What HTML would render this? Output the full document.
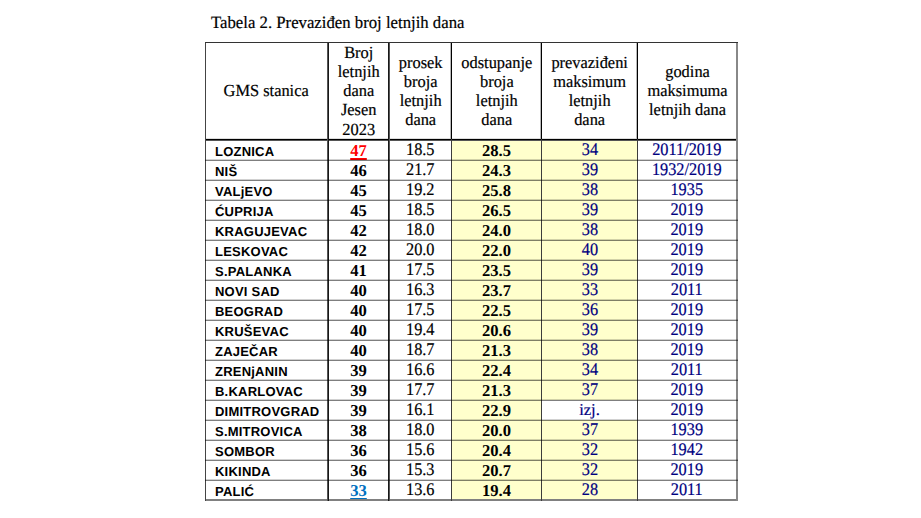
<!DOCTYPE html><html><head><meta charset="utf-8"><style>
html,body{margin:0;padding:0;background:#fff;}
body{width:921px;height:518px;position:relative;overflow:hidden;font-family:"Liberation Serif",serif;color:#000;text-rendering:geometricPrecision;}
.a{position:absolute;white-space:nowrap;}
.sk{-webkit-text-stroke:0.2px currentColor;}
.r{position:absolute;}
.c{position:absolute;text-align:center;white-space:nowrap;}
.n{font-family:"Liberation Sans",sans-serif;font-weight:bold;font-size:13px;letter-spacing:0.22px;line-height:20px;}
.d{font-size:17.8px;line-height:20px;transform:scaleX(0.9157);}
.b{font-weight:bold;font-size:16.6px;transform:scaleX(1.0000);-webkit-text-stroke:0px currentColor;}
.nv{color:#000080;}
.h{display:flex;align-items:center;justify-content:center;text-align:center;}
.hln{display:block;height:19.0px;line-height:19.0px;font-size:17.0px;transform:scaleX(0.9647);white-space:nowrap;}
</style></head><body>
<div class="a sk" style="left:211px;top:11.89px;font-size:17.3px;line-height:21.15px;transform-origin:0 0;transform:scaleX(0.9682);">Tabela 2. Prevaziđen broj letnjih dana</div>
<div class="r" style="left:452px;top:140px;width:89px;height:360px;background:#FFFFCC"></div>
<div class="r" style="left:542px;top:140px;width:95px;height:260px;background:#FFFFCC"></div>
<div class="r" style="left:542px;top:420px;width:95px;height:80px;background:#FFFFCC"></div>
<div class="c h sk" style="left:205px;top:42px;width:123px;height:97.5px;"><div><div class="hln">GMS stanica</div></div></div>
<div class="c h sk" style="left:328px;top:42px;width:61px;height:97.5px;"><div><div class="hln">Broj</div><div class="hln">letnjih</div><div class="hln">dana</div><div class="hln">Jesen</div><div class="hln" style="position:relative;top:0.8px">2023</div></div></div>
<div class="c h sk" style="left:389px;top:42px;width:62.5px;height:97.5px;"><div><div class="hln">prosek</div><div class="hln">broja</div><div class="hln">letnjih</div><div class="hln">dana</div></div></div>
<div class="c h sk" style="left:451.5px;top:42px;width:90.0px;height:97.5px;"><div><div class="hln">odstupanje</div><div class="hln">broja</div><div class="hln">letnjih</div><div class="hln">dana</div></div></div>
<div class="c h sk" style="left:541.5px;top:42px;width:96.0px;height:97.5px;"><div><div class="hln">prevaziđeni</div><div class="hln">maksimum</div><div class="hln">letnjih</div><div class="hln">dana</div></div></div>
<div class="c h sk" style="left:637.5px;top:42px;width:99.5px;height:97.5px;"><div><div class="hln">godina</div><div class="hln">maksimuma</div><div class="hln">letnjih dana</div></div></div>
<div class="a n" style="left:215px;top:141.5px;">LOZNICA</div>
<div class="c sk d b" style="left:328px;top:140.9px;width:61px;color:#FF0000;text-decoration:underline;text-underline-offset:2px;text-decoration-thickness:1.5px;">47</div>
<div class="c sk d" style="left:389px;top:138.6px;width:62.5px;">18.5</div>
<div class="c sk d b" style="left:451.5px;top:140.9px;width:90.0px;">28.5</div>
<div class="c sk d nv" style="left:541.5px;top:138.6px;width:96.0px;">34</div>
<div class="c sk d nv" style="left:636.5px;top:138.6px;width:99.5px;">2011/2019</div>
<div class="a n" style="left:215px;top:161.5px;">NIŠ</div>
<div class="c sk d b" style="left:328px;top:160.9px;width:61px;">46</div>
<div class="c sk d" style="left:389px;top:158.6px;width:62.5px;">21.7</div>
<div class="c sk d b" style="left:451.5px;top:160.9px;width:90.0px;">24.3</div>
<div class="c sk d nv" style="left:541.5px;top:158.6px;width:96.0px;">39</div>
<div class="c sk d nv" style="left:636.5px;top:158.6px;width:99.5px;">1932/2019</div>
<div class="a n" style="left:215px;top:181.5px;">VALjEVO</div>
<div class="c sk d b" style="left:328px;top:180.9px;width:61px;">45</div>
<div class="c sk d" style="left:389px;top:178.6px;width:62.5px;">19.2</div>
<div class="c sk d b" style="left:451.5px;top:180.9px;width:90.0px;">25.8</div>
<div class="c sk d nv" style="left:541.5px;top:178.6px;width:96.0px;">38</div>
<div class="c sk d nv" style="left:636.5px;top:178.6px;width:99.5px;">1935</div>
<div class="a n" style="left:215px;top:201.5px;">ĆUPRIJA</div>
<div class="c sk d b" style="left:328px;top:200.9px;width:61px;">45</div>
<div class="c sk d" style="left:389px;top:198.6px;width:62.5px;">18.5</div>
<div class="c sk d b" style="left:451.5px;top:200.9px;width:90.0px;">26.5</div>
<div class="c sk d nv" style="left:541.5px;top:198.6px;width:96.0px;">39</div>
<div class="c sk d nv" style="left:636.5px;top:198.6px;width:99.5px;">2019</div>
<div class="a n" style="left:215px;top:221.5px;">KRAGUJEVAC</div>
<div class="c sk d b" style="left:328px;top:220.9px;width:61px;">42</div>
<div class="c sk d" style="left:389px;top:218.6px;width:62.5px;">18.0</div>
<div class="c sk d b" style="left:451.5px;top:220.9px;width:90.0px;">24.0</div>
<div class="c sk d nv" style="left:541.5px;top:218.6px;width:96.0px;">38</div>
<div class="c sk d nv" style="left:636.5px;top:218.6px;width:99.5px;">2019</div>
<div class="a n" style="left:215px;top:241.5px;">LESKOVAC</div>
<div class="c sk d b" style="left:328px;top:240.9px;width:61px;">42</div>
<div class="c sk d" style="left:389px;top:238.6px;width:62.5px;">20.0</div>
<div class="c sk d b" style="left:451.5px;top:240.9px;width:90.0px;">22.0</div>
<div class="c sk d nv" style="left:541.5px;top:238.6px;width:96.0px;">40</div>
<div class="c sk d nv" style="left:636.5px;top:238.6px;width:99.5px;">2019</div>
<div class="a n" style="left:215px;top:261.5px;">S.PALANKA</div>
<div class="c sk d b" style="left:328px;top:260.90000000000003px;width:61px;">41</div>
<div class="c sk d" style="left:389px;top:258.6px;width:62.5px;">17.5</div>
<div class="c sk d b" style="left:451.5px;top:260.90000000000003px;width:90.0px;">23.5</div>
<div class="c sk d nv" style="left:541.5px;top:258.6px;width:96.0px;">39</div>
<div class="c sk d nv" style="left:636.5px;top:258.6px;width:99.5px;">2019</div>
<div class="a n" style="left:215px;top:281.5px;">NOVI SAD</div>
<div class="c sk d b" style="left:328px;top:280.90000000000003px;width:61px;">40</div>
<div class="c sk d" style="left:389px;top:278.6px;width:62.5px;">16.3</div>
<div class="c sk d b" style="left:451.5px;top:280.90000000000003px;width:90.0px;">23.7</div>
<div class="c sk d nv" style="left:541.5px;top:278.6px;width:96.0px;">33</div>
<div class="c sk d nv" style="left:636.5px;top:278.6px;width:99.5px;">2011</div>
<div class="a n" style="left:215px;top:301.5px;">BEOGRAD</div>
<div class="c sk d b" style="left:328px;top:300.90000000000003px;width:61px;">40</div>
<div class="c sk d" style="left:389px;top:298.6px;width:62.5px;">17.5</div>
<div class="c sk d b" style="left:451.5px;top:300.90000000000003px;width:90.0px;">22.5</div>
<div class="c sk d nv" style="left:541.5px;top:298.6px;width:96.0px;">36</div>
<div class="c sk d nv" style="left:636.5px;top:298.6px;width:99.5px;">2019</div>
<div class="a n" style="left:215px;top:321.5px;">KRUŠEVAC</div>
<div class="c sk d b" style="left:328px;top:320.90000000000003px;width:61px;">40</div>
<div class="c sk d" style="left:389px;top:318.6px;width:62.5px;">19.4</div>
<div class="c sk d b" style="left:451.5px;top:320.90000000000003px;width:90.0px;">20.6</div>
<div class="c sk d nv" style="left:541.5px;top:318.6px;width:96.0px;">39</div>
<div class="c sk d nv" style="left:636.5px;top:318.6px;width:99.5px;">2019</div>
<div class="a n" style="left:215px;top:341.5px;">ZAJEČAR</div>
<div class="c sk d b" style="left:328px;top:340.90000000000003px;width:61px;">40</div>
<div class="c sk d" style="left:389px;top:338.6px;width:62.5px;">18.7</div>
<div class="c sk d b" style="left:451.5px;top:340.90000000000003px;width:90.0px;">21.3</div>
<div class="c sk d nv" style="left:541.5px;top:338.6px;width:96.0px;">38</div>
<div class="c sk d nv" style="left:636.5px;top:338.6px;width:99.5px;">2019</div>
<div class="a n" style="left:215px;top:361.5px;">ZRENjANIN</div>
<div class="c sk d b" style="left:328px;top:360.90000000000003px;width:61px;">39</div>
<div class="c sk d" style="left:389px;top:358.6px;width:62.5px;">16.6</div>
<div class="c sk d b" style="left:451.5px;top:360.90000000000003px;width:90.0px;">22.4</div>
<div class="c sk d nv" style="left:541.5px;top:358.6px;width:96.0px;">34</div>
<div class="c sk d nv" style="left:636.5px;top:358.6px;width:99.5px;">2011</div>
<div class="a n" style="left:215px;top:381.5px;">B.KARLOVAC</div>
<div class="c sk d b" style="left:328px;top:380.90000000000003px;width:61px;">39</div>
<div class="c sk d" style="left:389px;top:378.6px;width:62.5px;">17.7</div>
<div class="c sk d b" style="left:451.5px;top:380.90000000000003px;width:90.0px;">21.3</div>
<div class="c sk d nv" style="left:541.5px;top:378.6px;width:96.0px;">37</div>
<div class="c sk d nv" style="left:636.5px;top:378.6px;width:99.5px;">2019</div>
<div class="a n" style="left:215px;top:401.5px;">DIMITROVGRAD</div>
<div class="c sk d b" style="left:328px;top:400.90000000000003px;width:61px;">39</div>
<div class="c sk d" style="left:389px;top:398.6px;width:62.5px;">16.1</div>
<div class="c sk d b" style="left:451.5px;top:400.90000000000003px;width:90.0px;">22.9</div>
<div class="c sk d nv" style="left:541.5px;top:399.6px;width:96.0px;font-size:16.6px;transform:none;">izj.</div>
<div class="c sk d nv" style="left:636.5px;top:398.6px;width:99.5px;">2019</div>
<div class="a n" style="left:215px;top:421.5px;">S.MITROVICA</div>
<div class="c sk d b" style="left:328px;top:420.90000000000003px;width:61px;">38</div>
<div class="c sk d" style="left:389px;top:418.6px;width:62.5px;">18.0</div>
<div class="c sk d b" style="left:451.5px;top:420.90000000000003px;width:90.0px;">20.0</div>
<div class="c sk d nv" style="left:541.5px;top:418.6px;width:96.0px;">37</div>
<div class="c sk d nv" style="left:636.5px;top:418.6px;width:99.5px;">1939</div>
<div class="a n" style="left:215px;top:441.5px;">SOMBOR</div>
<div class="c sk d b" style="left:328px;top:440.90000000000003px;width:61px;">36</div>
<div class="c sk d" style="left:389px;top:438.6px;width:62.5px;">15.6</div>
<div class="c sk d b" style="left:451.5px;top:440.90000000000003px;width:90.0px;">20.4</div>
<div class="c sk d nv" style="left:541.5px;top:438.6px;width:96.0px;">32</div>
<div class="c sk d nv" style="left:636.5px;top:438.6px;width:99.5px;">1942</div>
<div class="a n" style="left:215px;top:461.5px;">KIKINDA</div>
<div class="c sk d b" style="left:328px;top:460.90000000000003px;width:61px;">36</div>
<div class="c sk d" style="left:389px;top:458.6px;width:62.5px;">15.3</div>
<div class="c sk d b" style="left:451.5px;top:460.90000000000003px;width:90.0px;">20.7</div>
<div class="c sk d nv" style="left:541.5px;top:458.6px;width:96.0px;">32</div>
<div class="c sk d nv" style="left:636.5px;top:458.6px;width:99.5px;">2019</div>
<div class="a n" style="left:215px;top:481.5px;">PALIĆ</div>
<div class="c sk d b" style="left:328px;top:480.90000000000003px;width:61px;color:#0070C0;text-decoration:underline;text-underline-offset:2px;text-decoration-thickness:1.5px;">33</div>
<div class="c sk d" style="left:389px;top:478.6px;width:62.5px;">13.6</div>
<div class="c sk d b" style="left:451.5px;top:480.90000000000003px;width:90.0px;">19.4</div>
<div class="c sk d nv" style="left:541.5px;top:478.6px;width:96.0px;">28</div>
<div class="c sk d nv" style="left:636.5px;top:478.6px;width:99.5px;">2011</div>
<div class="r" style="left:205px;top:138px;width:533px;height:1px;background:#dddddd"></div>
<div class="r" style="left:205px;top:139px;width:533px;height:1px;background:#000"></div>
<div class="r" style="left:205px;top:140px;width:533px;height:1px;background:#555"></div>
<div class="r" style="left:205px;top:499px;width:533px;height:2px;background:#808080"></div>
<div class="r" style="left:327px;top:42px;width:1px;height:459px;background:#555"></div>
<div class="r" style="left:328px;top:42px;width:1px;height:459px;background:#181818"></div>
<div class="r" style="left:388px;top:42px;width:1px;height:459px;background:#181818"></div>
<div class="r" style="left:389px;top:42px;width:1px;height:459px;background:#555"></div>
<div class="r" style="left:451px;top:42px;width:1px;height:97px;background:#000"></div>
<div class="r" style="left:450px;top:42px;width:1px;height:97px;background:#b8b8b8"></div>
<div class="r" style="left:451px;top:139px;width:1px;height:362px;background:#3c3c3c"></div>
<div class="r" style="left:541px;top:42px;width:1px;height:97px;background:#000"></div>
<div class="r" style="left:540px;top:42px;width:1px;height:97px;background:#b8b8b8"></div>
<div class="r" style="left:541px;top:139px;width:1px;height:362px;background:#3c3c3c"></div>
<div class="r" style="left:637px;top:42px;width:1px;height:97px;background:#000"></div>
<div class="r" style="left:636px;top:42px;width:1px;height:97px;background:#b8b8b8"></div>
<div class="r" style="left:637px;top:139px;width:1px;height:362px;background:#3c3c3c"></div>
<div class="r" style="left:205px;top:42px;width:1px;height:459px;background:#444"></div>
<div class="r" style="left:736px;top:42px;width:2px;height:459px;background:#888"></div>
<div class="r" style="left:205px;top:42px;width:533px;height:1px;background:#333"></div>
<div class="r" style="left:205px;top:159px;width:533px;height:1px;background:rgba(0,0,0,0.18)"></div>
<div class="r" style="left:205px;top:160px;width:533px;height:1px;background:rgba(0,0,0,0.5)"></div>
<div class="r" style="left:205px;top:179px;width:533px;height:1px;background:rgba(0,0,0,0.18)"></div>
<div class="r" style="left:205px;top:180px;width:533px;height:1px;background:rgba(0,0,0,0.5)"></div>
<div class="r" style="left:205px;top:199px;width:533px;height:1px;background:rgba(0,0,0,0.18)"></div>
<div class="r" style="left:205px;top:200px;width:533px;height:1px;background:rgba(0,0,0,0.5)"></div>
<div class="r" style="left:205px;top:219px;width:533px;height:1px;background:rgba(0,0,0,0.18)"></div>
<div class="r" style="left:205px;top:220px;width:533px;height:1px;background:rgba(0,0,0,0.5)"></div>
<div class="r" style="left:205px;top:239px;width:533px;height:1px;background:rgba(0,0,0,0.18)"></div>
<div class="r" style="left:205px;top:240px;width:533px;height:1px;background:rgba(0,0,0,0.5)"></div>
<div class="r" style="left:205px;top:259px;width:533px;height:1px;background:rgba(0,0,0,0.18)"></div>
<div class="r" style="left:205px;top:260px;width:533px;height:1px;background:rgba(0,0,0,0.5)"></div>
<div class="r" style="left:205px;top:279px;width:533px;height:1px;background:rgba(0,0,0,0.18)"></div>
<div class="r" style="left:205px;top:280px;width:533px;height:1px;background:rgba(0,0,0,0.5)"></div>
<div class="r" style="left:205px;top:299px;width:533px;height:1px;background:rgba(0,0,0,0.18)"></div>
<div class="r" style="left:205px;top:300px;width:533px;height:1px;background:rgba(0,0,0,0.5)"></div>
<div class="r" style="left:205px;top:319px;width:533px;height:1px;background:rgba(0,0,0,0.18)"></div>
<div class="r" style="left:205px;top:320px;width:533px;height:1px;background:rgba(0,0,0,0.5)"></div>
<div class="r" style="left:205px;top:339px;width:533px;height:1px;background:rgba(0,0,0,0.18)"></div>
<div class="r" style="left:205px;top:340px;width:533px;height:1px;background:rgba(0,0,0,0.5)"></div>
<div class="r" style="left:205px;top:359px;width:533px;height:1px;background:rgba(0,0,0,0.18)"></div>
<div class="r" style="left:205px;top:360px;width:533px;height:1px;background:rgba(0,0,0,0.5)"></div>
<div class="r" style="left:205px;top:379px;width:533px;height:1px;background:rgba(0,0,0,0.18)"></div>
<div class="r" style="left:205px;top:380px;width:533px;height:1px;background:rgba(0,0,0,0.5)"></div>
<div class="r" style="left:205px;top:399px;width:533px;height:1px;background:rgba(0,0,0,0.18)"></div>
<div class="r" style="left:205px;top:400px;width:533px;height:1px;background:rgba(0,0,0,0.5)"></div>
<div class="r" style="left:205px;top:419px;width:533px;height:1px;background:rgba(0,0,0,0.18)"></div>
<div class="r" style="left:205px;top:420px;width:533px;height:1px;background:rgba(0,0,0,0.5)"></div>
<div class="r" style="left:205px;top:439px;width:533px;height:1px;background:rgba(0,0,0,0.18)"></div>
<div class="r" style="left:205px;top:440px;width:533px;height:1px;background:rgba(0,0,0,0.5)"></div>
<div class="r" style="left:205px;top:459px;width:533px;height:1px;background:rgba(0,0,0,0.18)"></div>
<div class="r" style="left:205px;top:460px;width:533px;height:1px;background:rgba(0,0,0,0.5)"></div>
<div class="r" style="left:205px;top:479px;width:533px;height:1px;background:rgba(0,0,0,0.18)"></div>
<div class="r" style="left:205px;top:480px;width:533px;height:1px;background:rgba(0,0,0,0.5)"></div>
</body></html>
